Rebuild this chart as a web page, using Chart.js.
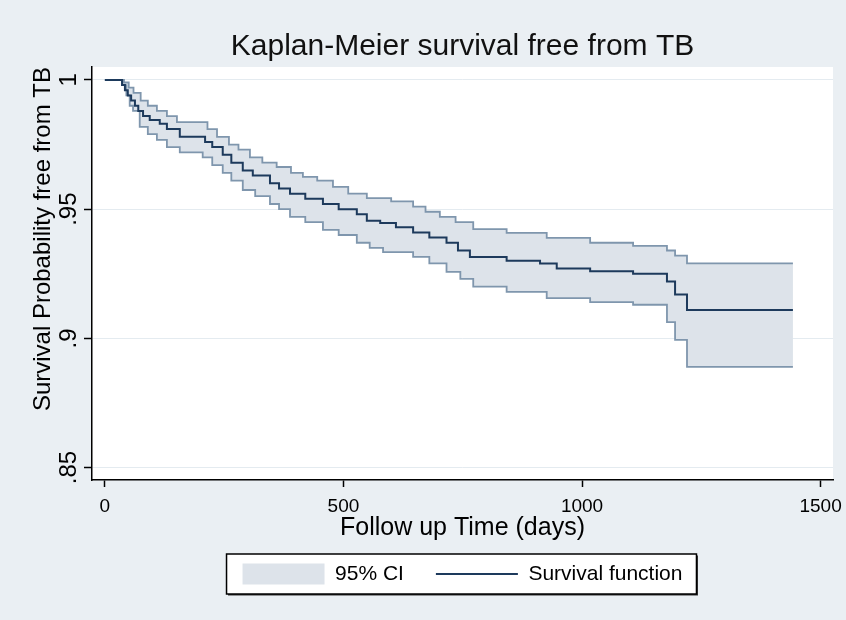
<!DOCTYPE html>
<html><head><meta charset="utf-8">
<script src="https://cdn.jsdelivr.net/npm/chart.js@4.4.1/dist/chart.umd.min.js"></script>
<style>html,body{margin:0;padding:0;background:#eaeff3;}canvas{display:block}</style>
</head><body>
<canvas id="c" width="846" height="620"></canvas>
<script>
// ---- data ----
const survTime = [0, 36, 42, 48, 55, 63, 70, 80, 94, 115, 130, 157, 210, 225, 247, 265, 289, 310, 346, 365, 388, 420, 457, 490, 528, 549, 577, 610, 646, 680, 716, 740, 765, 842, 912, 947, 1017, 1107, 1178, 1195, 1220, 1442];
const survProb = [1.000, 0.998, 0.996, 0.994, 0.992, 0.990, 0.988, 0.986, 0.9845, 0.983, 0.981, 0.978, 0.976, 0.974, 0.971, 0.968, 0.965, 0.963, 0.960, 0.958, 0.956, 0.954, 0.952, 0.950, 0.948, 0.9455, 0.9446, 0.943, 0.941, 0.939, 0.937, 0.934, 0.9315, 0.930, 0.929, 0.927, 0.926, 0.925, 0.922, 0.917, 0.911, 0.911];

const upperTime = [0, 40, 50, 60, 75, 90, 109, 130, 151, 215, 235, 260, 280, 304, 330, 360, 390, 415, 445, 478, 510, 549, 600, 646, 672, 702, 735, 772, 842, 926, 1017, 1107, 1178, 1195, 1220, 1442];
const upperProb = [1.0, 0.999, 0.997, 0.995, 0.992, 0.990, 0.988, 0.986, 0.9837, 0.981, 0.978, 0.975, 0.973, 0.970, 0.968, 0.9663, 0.964, 0.9625, 0.961, 0.9586, 0.956, 0.9543, 0.953, 0.951, 0.949, 0.947, 0.945, 0.9423, 0.9408, 0.9389, 0.937, 0.9358, 0.934, 0.932, 0.929, 0.929];

const lowerTime = [0, 36, 45, 52, 59, 73, 90, 109, 130, 157, 205, 225, 247, 265, 289, 315, 346, 365, 388, 420, 457, 490, 528, 555, 583, 646, 680, 716, 745, 772, 842, 926, 1017, 1107, 1178, 1195, 1220, 1442];
const lowerProb = [1.0, 0.998, 0.994, 0.990, 0.988, 0.9818, 0.979, 0.9768, 0.974, 0.972, 0.970, 0.967, 0.964, 0.961, 0.9574, 0.955, 0.952, 0.950, 0.947, 0.945, 0.942, 0.940, 0.937, 0.935, 0.9334, 0.9315, 0.929, 0.9257, 0.923, 0.920, 0.918, 0.9156, 0.914, 0.913, 0.9063, 0.8994, 0.889, 0.889];

const xTickValues = [0, 500, 1000, 1500];
const yTickValues = [0.85, 0.9, 0.95, 1];
const yTickLabels = ['.85', '.9', '.95', '1'];
const legendLabels = ['95% CI', 'Survival function'];
const chartTitle = 'Kaplan-Meier survival free from TB';
const xTitle = 'Follow up Time (days)';
const yTitle = 'Survival Probability free from TB';

// ---- styling ----
const FONT = "'Liberation Sans', Arial, sans-serif";
const BG = '#eaeff3', CI_FILL = '#dde3ea', CI_LINE = '#7f96ad', NAVY = '#1d3a5c', GRID = '#e4ebf0';

const toPts = (t, v) => t.map((x, i) => ({x: x, y: v[i]}));

const bgPlugin = {
  id: 'bg',
  beforeDraw(chart) {
    const ctx = chart.ctx, a = chart.chartArea;
    ctx.save();
    ctx.fillStyle = BG; ctx.fillRect(0, 0, chart.width, chart.height);
    ctx.fillStyle = '#fff'; ctx.fillRect(a.left, a.top, a.right - a.left, a.bottom - a.top);
    const hb = chart.legend && chart.legend.legendHitBoxes;
    if (hb && hb.length) {
      const l = Math.min(...hb.map(h => h.left)) - 16;
      const r = Math.max(...hb.map(h => h.left + h.width)) + 14;
      const t = Math.min(...hb.map(h => h.top)) - 9.5;
      const b = Math.max(...hb.map(h => h.top + h.height)) + 9.5;
      ctx.fillStyle = '#333'; ctx.fillRect(l + 1.5, t + 1.5, r - l, b - t);
      ctx.fillStyle = '#fff'; ctx.fillRect(l, t, r - l, b - t);
      ctx.strokeStyle = '#000'; ctx.lineWidth = 1.5; ctx.strokeRect(l, t, r - l, b - t);
    }
    ctx.restore();
  }
};

new Chart(document.getElementById('c'), {
  type: 'line',
  data: {
    datasets: [
      {label: legendLabels[1], data: toPts(survTime, survProb), borderColor: NAVY, borderWidth: 2, stepped: true, pointRadius: 0, fill: false, order: 0},
      {label: 'upper', data: toPts(upperTime, upperProb), borderColor: CI_LINE, borderWidth: 1.8, stepped: true, pointRadius: 0, fill: false, order: 1},
      {label: legendLabels[0], data: toPts(lowerTime, lowerProb), borderColor: CI_LINE, borderWidth: 1.8, stepped: true, pointRadius: 0, fill: 1, backgroundColor: CI_FILL, order: 2}
    ]
  },
  options: {
    responsive: false,
    animation: false,
    devicePixelRatio: 1,
    events: [],
    layout: {padding: {left: 0, right: 13, top: 0, bottom: 25.5}},
    scales: {
      x: {
        type: 'linear', min: -27, max: 1526,
        afterBuildTicks: s => { s.ticks = xTickValues.map(v => ({value: v})); },
        afterFit: s => { s.paddingLeft = 0; s.paddingRight = 0; s.height = 51.5; },
        ticks: {callback: (v, i) => String(xTickValues[i]), font: {family: FONT, size: 19}, color: '#000', padding: 8.6, maxRotation: 0, autoSkip: false},
        grid: {drawOnChartArea: false, tickColor: '#000', tickLength: 7, tickWidth: 1.5},
        border: {color: '#000', width: 1.5},
        title: {display: true, text: xTitle, font: {family: FONT, size: 25}, color: '#000', padding: {top: 0, bottom: -11.5}}
      },
      y: {
        type: 'linear', min: 0.8452, max: 1.005,
        afterBuildTicks: s => { s.ticks = yTickValues.map(v => ({value: v})); },
        afterFit: s => { s.width = 92; },
        ticks: {callback: (v, i) => yTickLabels[i], minRotation: 90, maxRotation: 90, crossAlign: 'center', padding: -2, font: {family: FONT, size: 24}, color: '#000', autoSkip: false},
        grid: {color: GRID, lineWidth: 1, tickColor: '#000', tickLength: 8, tickWidth: 1.5},
        border: {color: '#000', width: 1.5},
        title: {display: true, text: yTitle, align: 'end', font: {family: FONT, size: 24}, color: '#000', padding: {top: 28.6, bottom: 0}}
      }
    },
    plugins: {
      filler: {drawTime: 'beforeDatasetsDraw'},
      tooltip: {enabled: false},
      title: {display: true, text: chartTitle, fullSize: false, font: {family: FONT, size: 30, weight: 'normal'}, color: '#111', padding: {top: 29, bottom: 2}},
      legend: {
        position: 'bottom', fullSize: false,
        labels: {
          usePointStyle: true, pointStyleWidth: 82, boxHeight: 21, padding: 32,
          font: {family: FONT, size: 21}, color: '#000',
          generateLabels: () => [
            {text: legendLabels[0], fillStyle: CI_FILL, strokeStyle: CI_FILL, lineWidth: 0, pointStyle: 'rect', datasetIndex: 2, hidden: false, fontColor: '#000'},
            {text: legendLabels[1], fillStyle: NAVY, strokeStyle: NAVY, lineWidth: 2, pointStyle: 'line', datasetIndex: 0, hidden: false, fontColor: '#000'}
          ]
        }
      }
    }
  },
  plugins: [bgPlugin]
});
</script>
</body></html>
